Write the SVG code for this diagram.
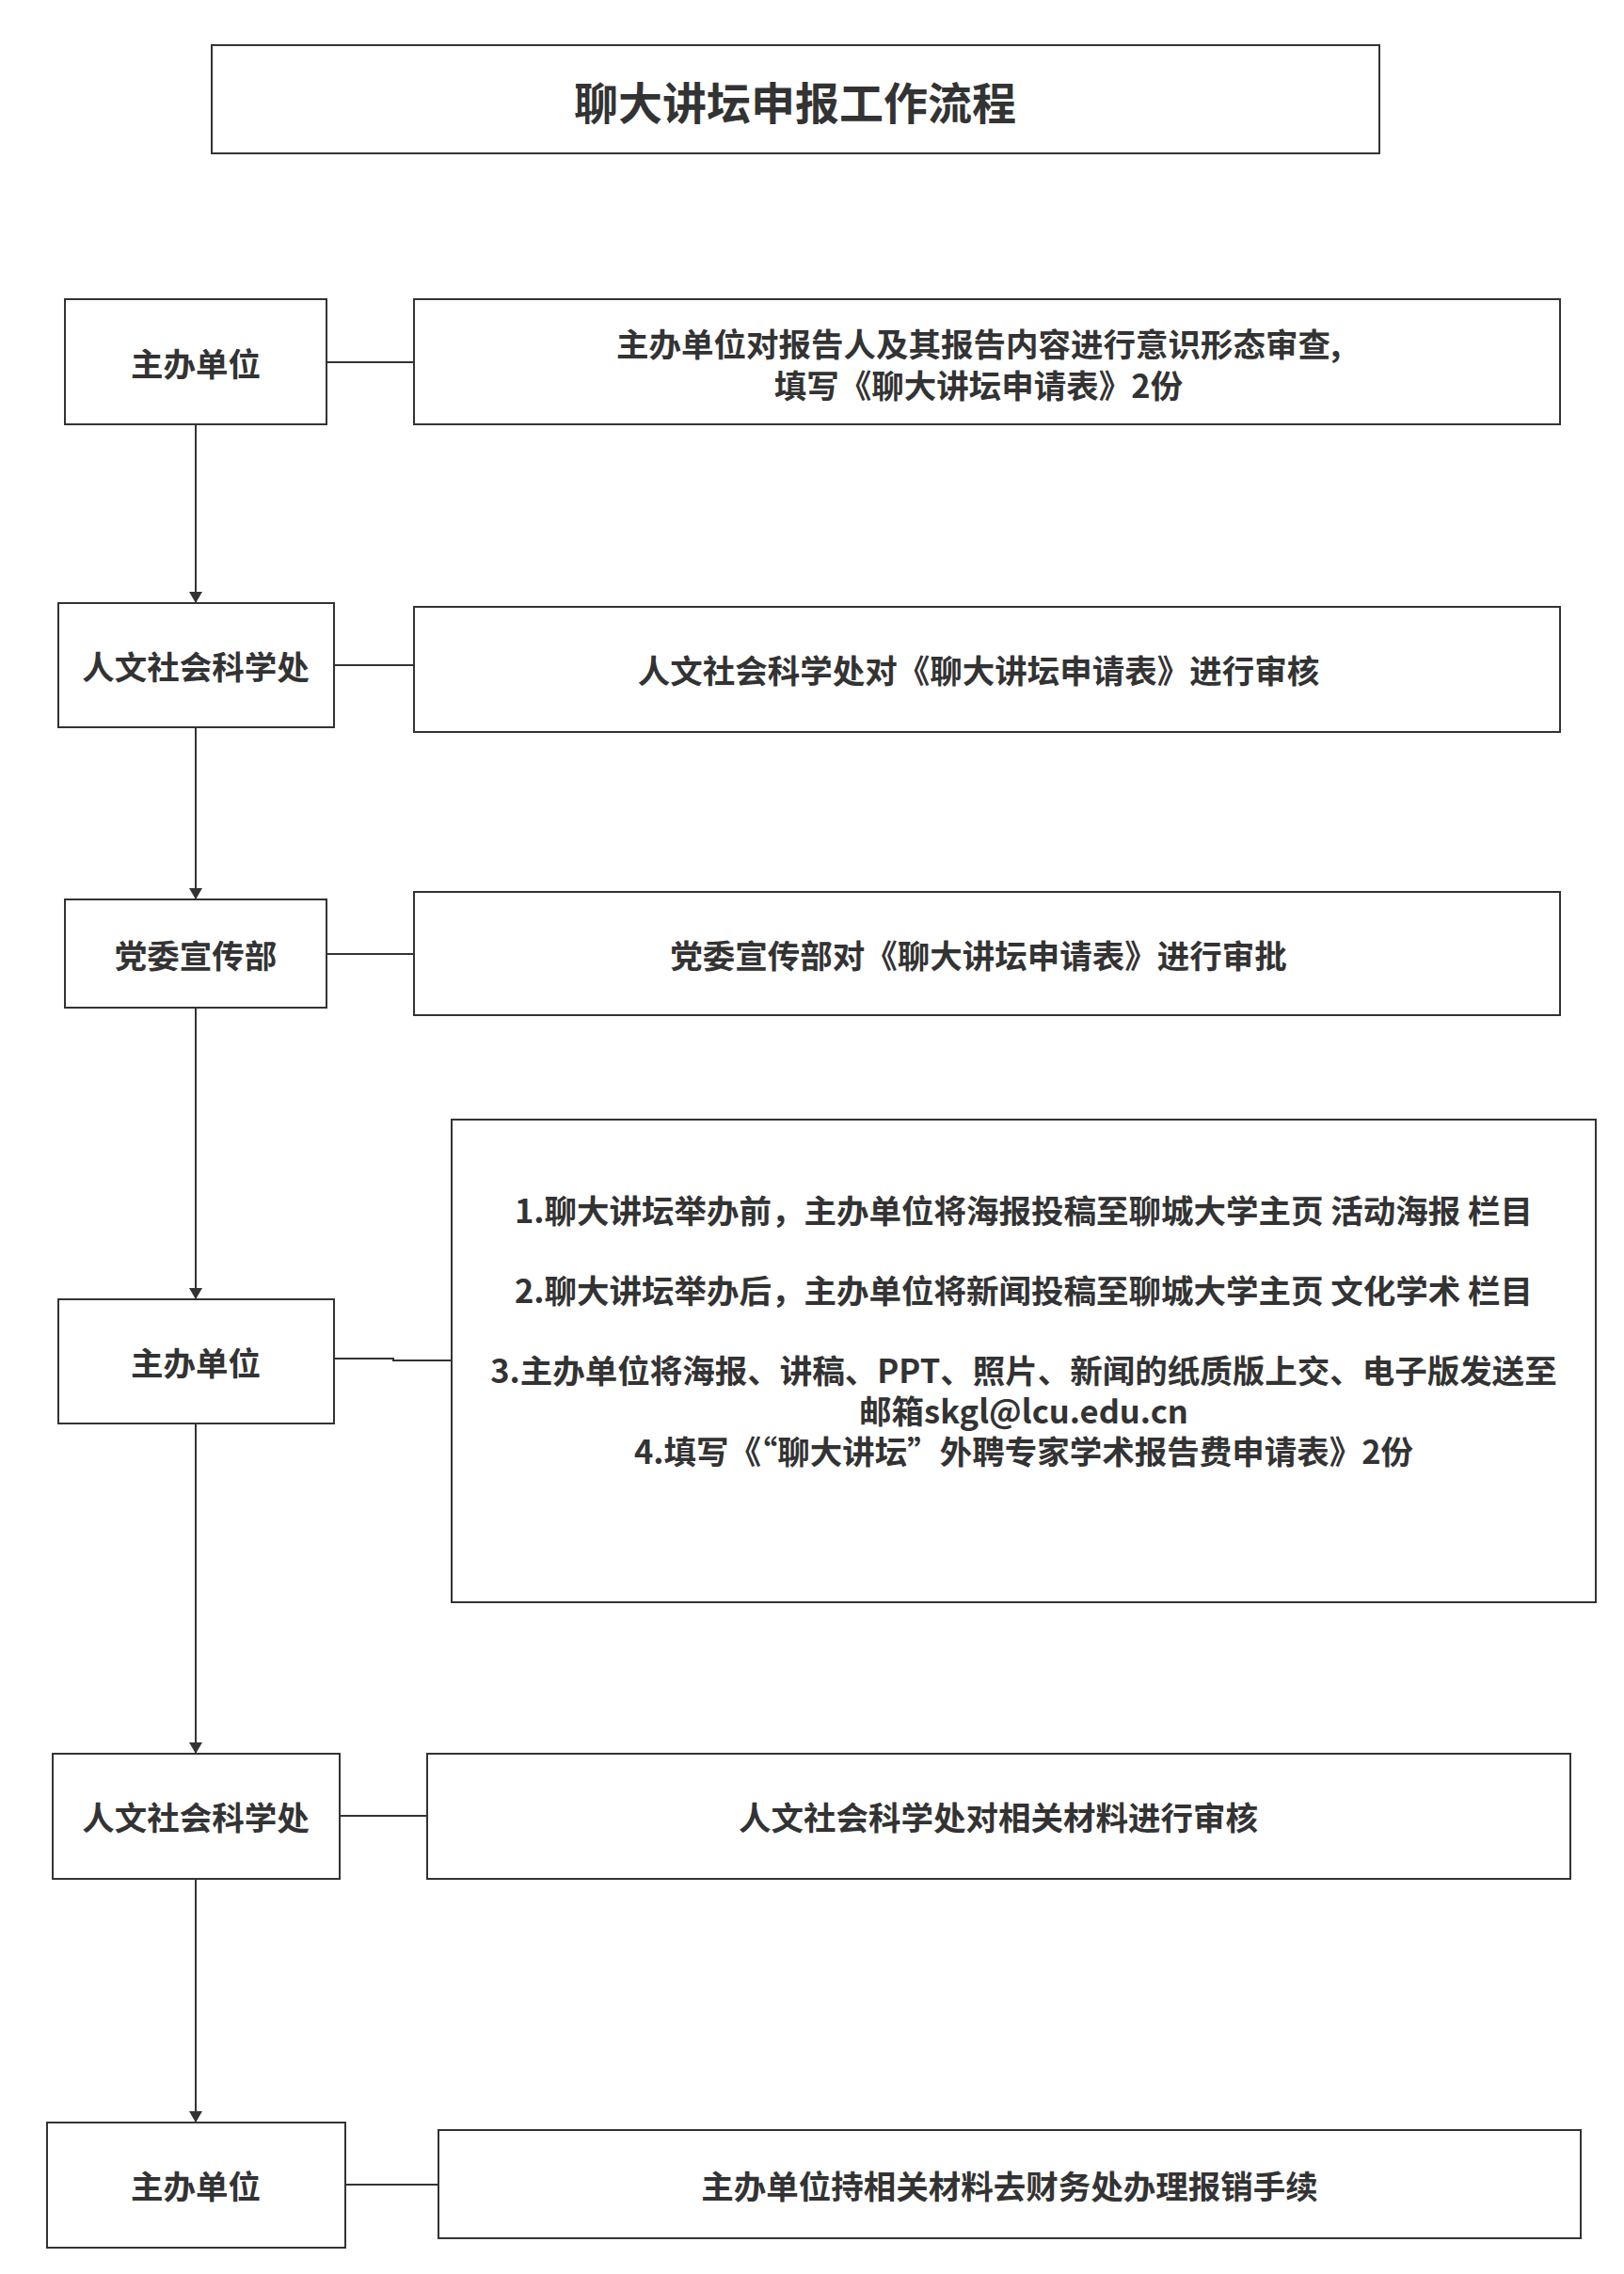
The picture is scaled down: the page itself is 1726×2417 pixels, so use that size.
<svg xmlns="http://www.w3.org/2000/svg" width="1726" height="2417" viewBox="0 0 1726 2417">
<style>
.b{fill:#fff;stroke:#333;stroke-width:2}
.t{font-family:"Noto Sans CJK SC",sans-serif;font-weight:bold;font-size:34.5px;fill:#333;text-anchor:middle;dominant-baseline:central}
.c{stroke:#333;stroke-width:2;fill:none}
</style>
<defs><marker id="a" markerWidth="14" markerHeight="22" refX="11" refY="7" orient="auto" markerUnits="userSpaceOnUse"><path d="M0,0L12,7L0,14Z" fill="#333"/></marker></defs>
<rect width="1726" height="2417" fill="#fff"/>
<g id="title"><rect class="b" x="225" y="48" width="1241" height="115"/><text class="t" x="845" y="106" style="font-size:47px">聊大讲坛申报工作流程</text></g>
<g id="n1"><rect class="b" x="69" y="318" width="278" height="133"/><text class="t" x="208" y="385">主办单位</text></g>
<g id="d1"><rect class="b" x="440" y="318" width="1218" height="133"/><text class="t" x="1040" y="364">主办单位对报告人及其报告内容进行意识形态审查,</text><text class="t" x="1040" y="408">填写《聊大讲坛申请表》2份</text></g>
<g id="n2"><rect class="b" x="62" y="641" width="293" height="132"/><text class="t" x="208" y="707">人文社会科学处</text></g>
<g id="d2"><rect class="b" x="440" y="645" width="1218" height="133"/><text class="t" x="1040" y="711">人文社会科学处对《聊大讲坛申请表》进行审核</text></g>
<g id="n3"><rect class="b" x="69" y="956" width="278" height="115"/><text class="t" x="208" y="1014">党委宣传部</text></g>
<g id="d3"><rect class="b" x="440" y="948" width="1218" height="131"/><text class="t" x="1040" y="1014">党委宣传部对《聊大讲坛申请表》进行审批</text></g>
<g id="n4"><rect class="b" x="62" y="1381" width="293" height="132"/><text class="t" x="208" y="1447">主办单位</text></g>
<g id="d4"><rect class="b" x="480" y="1190" width="1216" height="513"/>
<text class="t" x="1088" y="1285">1.聊大讲坛举办前，主办单位将海报投稿至聊城大学主页 活动海报 栏目</text>
<text class="t" x="1088" y="1370">2.聊大讲坛举办后，主办单位将新闻投稿至聊城大学主页 文化学术 栏目</text>
<text class="t" x="1088" y="1455">3.主办单位将海报、讲稿、PPT、照片、新闻的纸质版上交、电子版发送至</text>
<text class="t" x="1088" y="1498">邮箱skgl@lcu.edu.cn</text>
<text class="t" x="1088" y="1541">4.填写《“聊大讲坛”外聘专家学术报告费申请表》2份</text></g>
<g id="n5"><rect class="b" x="56" y="1864" width="305" height="133"/><text class="t" x="208" y="1930">人文社会科学处</text></g>
<g id="d5"><rect class="b" x="454" y="1864" width="1215" height="133"/><text class="t" x="1061" y="1930">人文社会科学处对相关材料进行审核</text></g>
<g id="n6"><rect class="b" x="50" y="2256" width="317" height="133"/><text class="t" x="208" y="2322">主办单位</text></g>
<g id="d6"><rect class="b" x="466" y="2264" width="1214" height="115"/><text class="t" x="1073" y="2322">主办单位持相关材料去财务处办理报销手续</text></g>
<g id="connectors">
<path class="c" d="M347,385H440"/>
<path class="c" d="M355,707H440"/>
<path class="c" d="M347,1014H440"/>
<path class="c" d="M355,1444H418V1446H480"/>
<path class="c" d="M361,1930H454"/>
<path class="c" d="M367,2322H466"/>
<path class="c" d="M208,451V640" marker-end="url(#a)"/>
<path class="c" d="M208,773V955" marker-end="url(#a)"/>
<path class="c" d="M208,1071V1380" marker-end="url(#a)"/>
<path class="c" d="M208,1513V1863" marker-end="url(#a)"/>
<path class="c" d="M208,1997V2255" marker-end="url(#a)"/>
</g>
</svg>
